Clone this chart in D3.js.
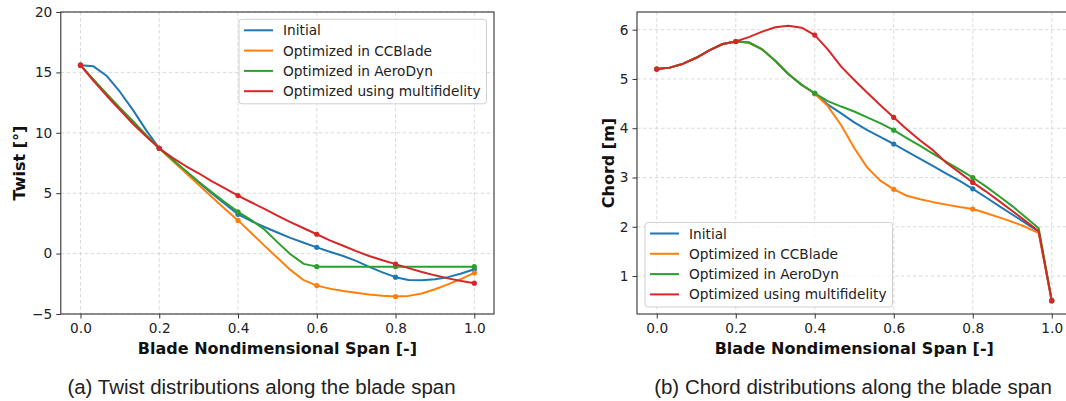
<!DOCTYPE html>
<html lang="en">
<head>
  <meta charset="UTF-8">
  <title>Twist and chord distributions</title>
  <script src="https://d3js.org/d3.v7.min.js"></script>
  <style>
    html, body { margin: 0; padding: 0; background: #fff; overflow: hidden; }
    svg { display: block; }
    .tick-label { font: 13.7px "DejaVu Sans", sans-serif; fill: #222; }
    .axis-label { font: bold 16px "DejaVu Sans", sans-serif; fill: #111; }
    .legend text { font: 13.7px "DejaVu Sans", sans-serif; fill: #222; }
    .caption { font: 20.5px "Liberation Sans", Arial, sans-serif; fill: #222; }
    .grid line { stroke: #d6d6d6; stroke-width: 0.9; stroke-dasharray: 3.5,2.5; }
  </style>
</head>
<body>
  <svg id="chart" width="1066" height="401"></svg>
  <script>
  // spanwise stations shared by every series (0 .. 1 in steps of 1/30)
  const span = [0, 0.033, 0.067, 0.1, 0.133, 0.167, 0.2, 0.233, 0.267, 0.3, 0.333,
    0.367, 0.4, 0.433, 0.467, 0.5, 0.533, 0.567, 0.6, 0.633, 0.667, 0.7, 0.733,
    0.767, 0.8, 0.833, 0.867, 0.9, 0.933, 0.967, 1.0];
  const markerIdx = [0, 6, 12, 18, 24, 30];

  const seriesNames = ["Initial", "Optimized in CCBlade", "Optimized in AeroDyn", "Optimized using multifidelity"];
  const colors = ["#1f77b4", "#ff7f0e", "#2ca02c", "#d62728"];

  // twist [deg]
  const twistInitial = [15.6, 15.5, 14.7, 13.4, 11.9, 10.2, 8.72, 7.75, 6.8, 5.9, 5.0,
    4.1, 3.25, 2.7, 2.2, 1.75, 1.3, 0.9, 0.52, 0.15, -0.2, -0.6, -1.1,
    -1.55, -1.95, -2.18, -2.2, -2.12, -1.95, -1.65, -1.3];
  const twistCCBlade = [15.6, 14.4, 13.2, 12.05, 10.95, 9.8, 8.72, 7.7, 6.7, 5.7, 4.7,
    3.7, 2.75, 1.72, 0.66, -0.35, -1.35, -2.2, -2.65, -2.9, -3.1, -3.25, -3.38,
    -3.48, -3.55, -3.5, -3.3, -2.95, -2.55, -2.1, -1.6];
  const twistAeroDyn = [15.6, 14.4, 13.2, 12.05, 10.95, 9.8, 8.72, 7.8, 6.85, 5.95, 5.1,
    4.25, 3.45, 2.8, 2.0, 0.95, -0.05, -0.85, -1.08, -1.08, -1.08, -1.08, -1.08,
    -1.08, -1.08, -1.08, -1.08, -1.08, -1.08, -1.08, -1.08];
  const twistMulti = [15.6, 14.3, 13.05, 11.9, 10.75, 9.7, 8.72, 7.95, 7.25, 6.65, 6.0,
    5.4, 4.8, 4.25, 3.7, 3.15, 2.6, 2.1, 1.6, 1.1, 0.65, 0.2, -0.2,
    -0.55, -0.87, -1.2, -1.52, -1.8, -2.05, -2.27, -2.45];

  // chord [m]
  const chordInitial = [5.2, 5.23, 5.31, 5.43, 5.58, 5.71, 5.76, 5.74, 5.6, 5.37, 5.1,
    4.88, 4.71, 4.48, 4.3, 4.12, 3.96, 3.82, 3.68, 3.53, 3.38, 3.23, 3.08,
    2.93, 2.77, 2.6, 2.42, 2.25, 2.08, 1.9, 0.5];
  const chordCCBlade = [5.2, 5.23, 5.31, 5.43, 5.58, 5.71, 5.76, 5.74, 5.6, 5.37, 5.1,
    4.88, 4.7, 4.45, 4.06, 3.6, 3.2, 2.93, 2.76, 2.63, 2.56, 2.5, 2.45,
    2.4, 2.36, 2.28, 2.19, 2.1, 2.0, 1.87, 0.5];
  const chordAeroDyn = [5.2, 5.23, 5.31, 5.43, 5.58, 5.71, 5.76, 5.74, 5.6, 5.37, 5.1,
    4.88, 4.71, 4.55, 4.44, 4.34, 4.22, 4.1, 3.96, 3.8, 3.64, 3.48, 3.32,
    3.16, 3.0, 2.82, 2.62, 2.42, 2.2, 1.97, 0.5];
  const chordMulti = [5.2, 5.23, 5.31, 5.43, 5.58, 5.71, 5.76, 5.85, 5.96, 6.05, 6.08,
    6.04, 5.89, 5.6, 5.25, 4.98, 4.72, 4.46, 4.22, 3.98, 3.75, 3.55, 3.3,
    3.1, 2.9, 2.72, 2.52, 2.32, 2.12, 1.91, 0.5];

  const xTicks = [0, 0.2, 0.4, 0.6, 0.8, 1.0];
  const twistTicks = [-5, 0, 5, 10, 15, 20];
  const chordTicks = [1, 2, 3, 4, 5, 6];

  const svg = d3.select("#chart");
  const fmtMinus = v => (v < 0 ? "\u2212" + Math.abs(v) : String(v));

  function drawPanel(p) {
    const g = svg.append("g");
    const x = d3.scaleLinear().domain([-0.05, 1.05]).range([p.left, p.right]);
    const y = d3.scaleLinear().domain(p.yDomain).range([p.bottom, p.top]);

    // grid
    const grid = g.append("g").attr("class", "grid");
    grid.selectAll(".gx").data(xTicks).join("line")
      .attr("x1", d => x(d)).attr("x2", d => x(d))
      .attr("y1", p.top).attr("y2", p.bottom);
    grid.selectAll(".gy").data(p.yTicks).join("line")
      .attr("x1", p.left).attr("x2", p.right)
      .attr("y1", d => y(d)).attr("y2", d => y(d));

    // axes
    const xAxis = g.append("g")
      .attr("transform", `translate(0,${p.bottom})`)
      .call(d3.axisBottom(x).tickValues(xTicks).tickFormat(d3.format(".1f")).tickSize(4.5).tickPadding(5));
    const yAxis = g.append("g")
      .attr("transform", `translate(${p.left},0)`)
      .call(d3.axisLeft(y).tickValues(p.yTicks).tickFormat(fmtMinus).tickSize(4.5).tickPadding(4));
    [xAxis, yAxis].forEach(a => {
      a.select(".domain").remove();
      a.selectAll(".tick line").attr("stroke", "#333").attr("stroke-width", 1);
      a.selectAll(".tick text").attr("class", "tick-label").attr("fill", null);
    });

    // series, straight segments between stations like the original plot
    const line = d3.line()
      .x((d, i) => x(span[i]))
      .y(d => y(d));
    p.series.forEach((s, k) => {
      g.append("path")
        .datum(s)
        .attr("fill", "none")
        .attr("stroke", colors[k])
        .attr("stroke-width", 2)
        .attr("stroke-linejoin", "round")
        .attr("d", line);
      g.selectAll(null).data(markerIdx).join("circle")
        .attr("cx", i => x(span[i]))
        .attr("cy", i => y(s[i]))
        .attr("r", 2.6)
        .attr("fill", colors[k]);
    });

    // frame
    g.append("rect")
      .attr("x", p.left).attr("y", p.top)
      .attr("width", p.right - p.left).attr("height", p.bottom - p.top)
      .attr("fill", "none").attr("stroke", "#333").attr("stroke-width", 1.1);

    // labels
    const cx = (p.left + p.right) / 2;
    g.append("text").attr("class", "axis-label")
      .attr("x", cx).attr("y", p.bottom + 39.5)
      .attr("text-anchor", "middle")
      .text("Blade Nondimensional Span [-]");
    g.append("text").attr("class", "axis-label")
      .attr("transform", `translate(${p.yLabelX},${(p.top + p.bottom) / 2}) rotate(-90)`)
      .attr("text-anchor", "middle")
      .attr("dy", "0.35em")
      .text(p.yLabel);
    g.append("text").attr("class", "caption")
      .attr("x", p.captionX).attr("y", 394)
      .attr("text-anchor", "middle")
      .text(p.caption);

    // legend
    const lg = g.append("g").attr("class", "legend")
      .attr("transform", `translate(${p.legendX},${p.legendY})`);
    lg.append("rect")
      .attr("width", 247.5).attr("height", 84.5)
      .attr("rx", 3)
      .attr("fill", "#fff").attr("fill-opacity", 0.8)
      .attr("stroke", "#d0d0d0");
    seriesNames.forEach((name, k) => {
      const ry = 11 + k * 20.3;
      lg.append("line")
        .attr("x1", 5).attr("x2", 34)
        .attr("y1", ry).attr("y2", ry)
        .attr("stroke", colors[k]).attr("stroke-width", 2);
      lg.append("text")
        .attr("x", 44).attr("y", ry + 5)
        .text(name);
    });
  }

  drawPanel({
    left: 60.8, right: 494, top: 12, bottom: 314,
    yDomain: [-5, 20], yTicks: twistTicks,
    series: [twistInitial, twistCCBlade, twistAeroDyn, twistMulti],
    yLabel: "Twist [\u00b0]", yLabelX: 19.5,
    caption: "(a) Twist distributions along the blade span", captionX: 261.5,
    legendX: 239, legendY: 19.3
  });

  drawPanel({
    left: 637, right: 1071.5, top: 12, bottom: 314,
    yDomain: [0.23, 6.359], yTicks: chordTicks,
    series: [chordInitial, chordCCBlade, chordAeroDyn, chordMulti],
    yLabel: "Chord [m]", yLabelX: 608.5,
    caption: "(b) Chord distributions along the blade span", captionX: 853,
    legendX: 645, legendY: 222.5
  });
  </script>
</body>
</html>
